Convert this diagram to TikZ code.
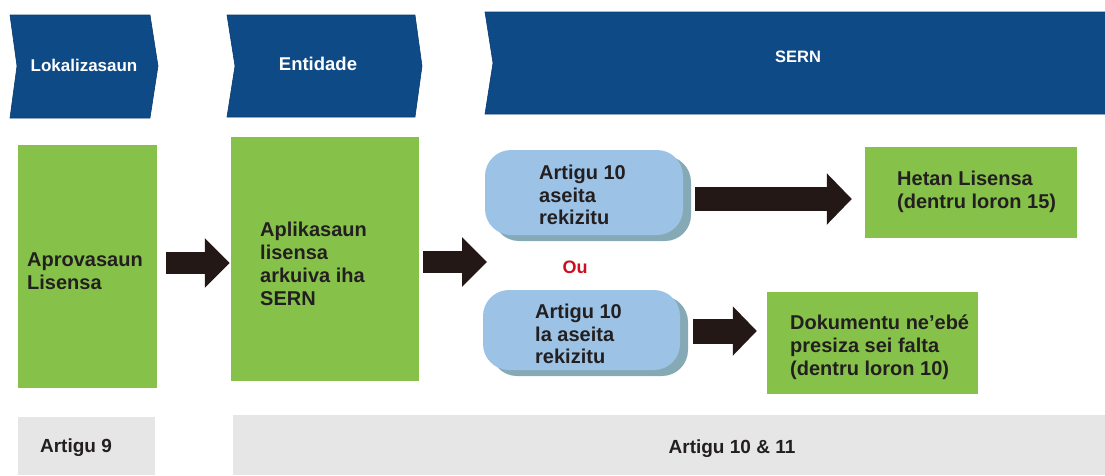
\documentclass[tikz,border=0pt]{standalone}
\usepackage{fontspec}
\setmainfont{Liberation Sans}
\usetikzlibrary{arrows.meta,shadows}
\definecolor{navy}{HTML}{0D4A86}
\definecolor{navyline}{HTML}{0A3C6E}
\definecolor{lgreen}{HTML}{86C24A}
\definecolor{lblue}{HTML}{9CC3E6}
\definecolor{shadowc}{HTML}{86A9B6}
\definecolor{lgray}{HTML}{E6E6E6}
\definecolor{ored}{HTML}{CC1020}
\definecolor{txt}{HTML}{231F20}
\definecolor{arrowc}{HTML}{231815}
\begin{document}
\begin{tikzpicture}[x=1pt,y=-1pt,
  chev/.style={fill=navy, draw=navyline, line width=0.6pt},
  chevtext/.style={text=white, font=\bfseries\fontsize{17}{20}\selectfont},
  greenbox/.style={fill=lgreen, draw=none, inner sep=0pt},
  graybox/.style={fill=lgray, draw=none, inner sep=0pt},
  bluebox/.style={fill=lblue, draw=none, inner sep=0pt, rounded corners=26pt,
    general shadow={fill=shadowc, shadow xshift=8pt, shadow yshift=-6pt}},
  boxtext/.style={text=txt, align=left, anchor=west, inner sep=0pt,
    font=\bfseries\fontsize{20}{22.8}\selectfont},
  foottext/.style={text=txt, inner sep=0pt, font=\bfseries\fontsize{19}{22}\selectfont},
  fatarrow/.style={draw=arrowc, line width=22pt, -{Triangle[length=25pt,width=48pt]}}
]
\useasboundingbox (0,0) rectangle (1105,475);

% header chevrons
\path[chev] (10,15) -- (150,15) -- (158,66) -- (150,118) -- (10,118) -- (17,66) -- cycle;
\node[chevtext] (h1) at (84,65) {Lokalizasaun};
\path[chev] (227,15) -- (415,15) -- (422,66) -- (415,117) -- (227,117) -- (235,66) -- cycle;
\node[chevtext, font=\bfseries\fontsize{18.5}{20}\selectfont] (h2) at (318,64) {Entidade};
\path[chev] (485,12) -- (1106,12) -- (1106,114) -- (485,114) -- (493,63) -- cycle;
\node[chevtext, font=\bfseries\fontsize{16.5}{19}\selectfont] (h3) at (798,57) {SERN};

% green boxes
\node[greenbox, minimum width=139pt, minimum height=243pt] (A) at (87.5,266.5) {};
\node[boxtext] (At) at (27,271.5) {Aprovasaun\\Lisensa};
\node[greenbox, minimum width=188pt, minimum height=244pt] (B) at (325,259) {};
\node[boxtext] (Bt) at (260,264) {Aplikasaun\\lisensa\\arkuiva iha\\SERN};
\node[greenbox, minimum width=212pt, minimum height=91pt] (C) at (971,192.5) {};
\node[boxtext] (Ct) at (897,191.5) {Hetan Lisensa\\(dentru loron 15)};
\node[greenbox, minimum width=211pt, minimum height=102pt] (D) at (872.5,343) {};
\node[boxtext] (Dt) at (790,347.5) {Dokumentu ne’ebé\\presiza sei falta\\(dentru loron 10)};

% blue rounded boxes
\node[bluebox, minimum width=198pt, minimum height=85pt] (P) at (584,192.5) {};
\node[boxtext] (Pt) at (539,195) {Artigu 10\\aseita\\rekizitu};
\node[bluebox, minimum width=197pt, minimum height=80pt] (Q) at (581.5,330) {};
\node[boxtext] (Qt) at (535,334) {Artigu 10\\la aseita\\rekizitu};

\node[text=ored, inner sep=0pt, font=\bfseries\fontsize{18}{20}\selectfont] (ou) at (575,267) {Ou};

% footer
\node[graybox, minimum width=137pt, minimum height=58pt] (E) at (86.5,446) {};
\node[foottext] (Et) at (76,448) {Artigu 9};
\node[graybox, minimum width=873pt, minimum height=60pt] (F) at (669.5,445) {};
\node[foottext] (Ft) at (732,449) {Artigu 10 \& 11};

% arrows
\coordinate (split) at (487,262);
\draw[fatarrow, shorten <=9pt, shorten >=1pt] ([yshift=3.5pt]A.east) -- ([yshift=-4pt]B.west);
\draw[fatarrow, shorten <=4pt] ([yshift=-3pt]B.east) -- (split);
\draw[fatarrow, line width=24pt, -{Triangle[length=25pt,width=50pt]}, shorten <=12pt, shorten >=13pt]
  ([yshift=-6.5pt]P.east) -- ([yshift=-6.5pt]C.west);
\draw[fatarrow, line width=25pt, -{Triangle[length=24pt,width=48pt]}, shorten <=13pt, shorten >=10pt]
  ([yshift=-1pt]Q.east) -- ([yshift=12pt]D.west);
\end{tikzpicture}
\end{document}
